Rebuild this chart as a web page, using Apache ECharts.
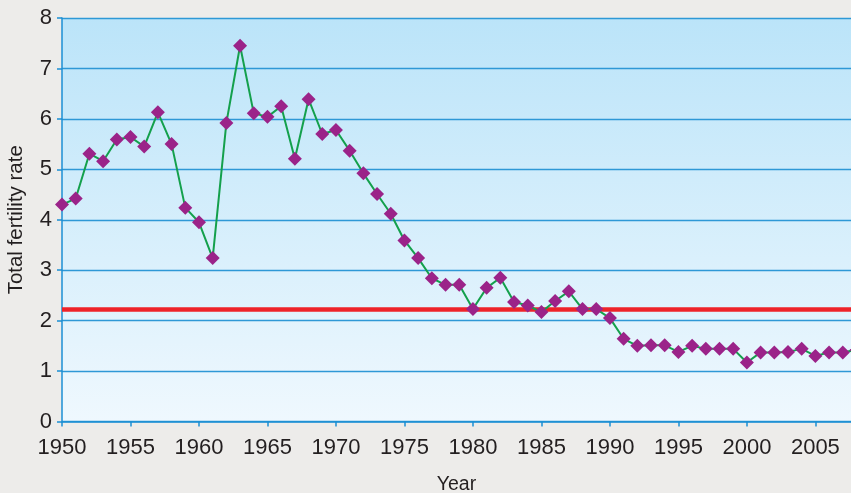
<!DOCTYPE html>
<html>
<head>
    <meta charset="utf-8" />
    <title>Total fertility rate</title>
    <script src="https://cdn.jsdelivr.net/npm/echarts@6/dist/echarts.min.js"></script>
    <style>
        html, body { margin: 0; padding: 0; background: #edecea; }
        #chart { width: 851px; height: 493px; }
    </style>
</head>
<body>
    <div id="chart"></div>
    <script>
        // data
        var firstYear = 1950;
        var fertility = [
            4.30, 4.42, 5.31, 5.16, 5.59, 5.64, 5.45, 6.13, 5.50, 4.24,
            3.95, 3.24, 5.92, 7.45, 6.11, 6.04, 6.25, 5.21, 6.39, 5.70,
            5.78, 5.37, 4.92, 4.51, 4.12, 3.59, 3.24, 2.84, 2.71, 2.71,
            2.23, 2.65, 2.85, 2.37, 2.30, 2.17, 2.39, 2.58, 2.23, 2.23,
            2.05, 1.64, 1.50, 1.51, 1.51, 1.38, 1.50, 1.44, 1.44, 1.44,
            1.17, 1.37, 1.37, 1.38, 1.44, 1.30, 1.37, 1.37, 1.42
        ];
        var replacementLevel = 2.23;
        var yTicks = [0, 8, 1];          // min, max, step
        var xTicks = [1950, 2007.6, 5];  // the original is cropped just past 2007

        var points = fertility.map(function (v, i) { return [firstYear + i, v]; });

        var textColor = '#231f20';
        var axisBlue = '#1b8fd4';

        var chart = echarts.init(document.getElementById('chart'), null, { renderer: 'canvas' });
        chart.setOption({
            backgroundColor: '#edecea',
            animation: false,
            grid: {
                left: 62, top: 18, bottom: 71.5, right: 0,
                outerBoundsMode: 'none',
                show: true,
                borderWidth: 0,
                backgroundColor: new echarts.graphic.LinearGradient(0, 0, 0, 1, [
                    { offset: 0, color: '#bbe4f9' },
                    { offset: 1, color: '#eff8fe' }
                ])
            },
            xAxis: {
                type: 'value',
                min: xTicks[0], max: xTicks[1], interval: xTicks[2],
                name: 'Year',
                nameLocation: 'middle',
                nameGap: 53,
                nameTextStyle: { fontFamily: 'Liberation Sans', fontSize: 19.5, color: textColor },
                axisLine: { lineStyle: { color: axisBlue, width: 1.5 } },
                axisTick: { show: true, inside: false, length: 5, lineStyle: { color: axisBlue, width: 1.5 } },
                axisLabel: {
                    fontFamily: 'Liberation Sans', fontSize: 22, color: textColor, margin: 15,
                    showMaxLabel: false,
                    formatter: function (v) { return v % 5 === 0 ? String(v) : ''; }
                },
                splitLine: { show: false }
            },
            yAxis: {
                type: 'value',
                min: yTicks[0], max: yTicks[1], interval: yTicks[2],
                name: 'Total fertility rate',
                nameLocation: 'middle',
                nameGap: 35,
                nameTextStyle: { fontFamily: 'Liberation Sans', fontSize: 20.5, color: textColor },
                axisLine: { show: true, lineStyle: { color: axisBlue, width: 1.5 } },
                axisTick: { show: true, length: 5, lineStyle: { color: axisBlue, width: 1.5 } },
                axisLabel: { fontFamily: 'Liberation Sans', fontSize: 22, color: textColor, margin: 10 },
                splitLine: { show: true, lineStyle: { color: '#2e98d6', width: 1.3 } }
            },
            series: [{
                type: 'line',
                data: points,
                clip: false,
                symbol: 'diamond',
                symbolSize: 14,
                itemStyle: { color: '#9b2389' },
                lineStyle: { color: '#14a04c', width: 2 },
                z: 3,
                markLine: {
                    silent: true,
                    symbol: 'none',
                    label: { show: false },
                    lineStyle: { color: '#ee2329', width: 4.5, type: 'solid' },
                    data: [{ yAxis: replacementLevel }],
                    z: 2
                }
            }]
        });
    </script>
</body>
</html>
